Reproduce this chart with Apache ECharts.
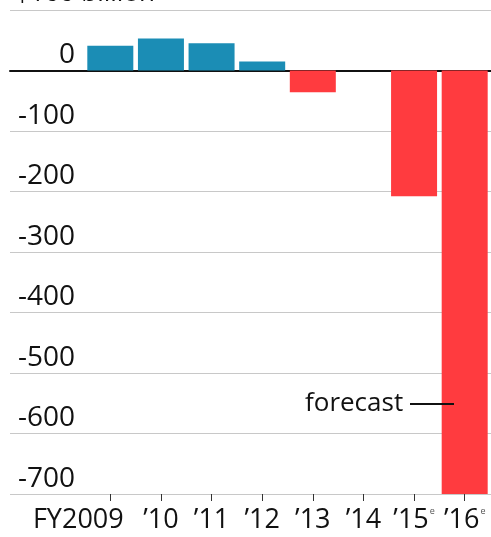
<!DOCTYPE html>
<html>
<head>
<meta charset="utf-8">
<script src="https://cdn.jsdelivr.net/npm/echarts@6/dist/echarts.min.js"></script>
<style>
  html, body { margin: 0; padding: 0; background: #fff; }
  #chart { width: 491px; height: 537px; }
</style>
</head>
<body>
<div id="chart"></div>
<script>
// budget balance, $ billion
const years = ['FY2009', '’10', '’11', '’12', '’13', '’14', '’15', '’16'];
const forecast = [false, false, false, false, false, false, true, true];
const balance = [41, 53, 45, 15, -36, 0, -208, -700];
const yTicks = [100, 0, -100, -200, -300, -400, -500, -600, -700];

const BLUE = '#1b8db5';
const RED = '#ff3b3f';
const FONT = '"Open Sans", "Noto Sans", sans-serif';

const chart = echarts.init(document.getElementById('chart'));

chart.setOption({
    animation: false,
    textStyle: { fontFamily: FONT },
    grid: [
        // wide grid: gridlines and zero line run under the labels
        { left: 10, right: 0, top: 10, bottom: 43 },
        // bar grid
        { left: 85, right: 1, top: 10, bottom: 43 }
    ],
    xAxis: [
        {
            gridIndex: 0, type: 'value', min: 0, max: 1,
            axisLine: { show: true, onZero: true, lineStyle: { color: '#111', width: 2 } },
            axisTick: { show: false }, axisLabel: { show: false }, splitLine: { show: false }
        },
        {
            gridIndex: 1, type: 'category',
            data: years.map((y, i) => {
                if (i === 0) return { value: y, textStyle: { padding: [0, 64, 0, 0] } };
                return y;
            }),
            axisLine: { show: false, onZero: false },
            axisTick: { show: true, alignWithLabel: true, interval: 0, length: 7, lineStyle: { color: '#333' } },
            axisLabel: {
                interval: 0,
                margin: 13,
                fontSize: 27,
                color: '#111',
                formatter: (v, i) => forecast[i] ? v + '{e|e}' : v,
                rich: { e: { fontSize: 9, color: '#555', verticalAlign: 'top', padding: [0, 0, 12, 1] } }
            }
        }
    ],
    yAxis: [
        {
            gridIndex: 0, type: 'value', min: -700, max: 100, interval: 100,
            axisLine: { show: false }, axisTick: { show: false }, axisLabel: { show: false },
            splitLine: { lineStyle: { color: '#c8c8c8', width: 1 } }
        },
        {
            gridIndex: 1, type: 'value', min: -700, max: 100, interval: 100,
            axisLine: { show: false }, axisTick: { show: false },
            splitLine: { show: false },
            axisLabel: {
                margin: 10,
                fontSize: 28,
                color: '#111',
                verticalAlign: 'bottom',
                padding: [0, 0, 1, 0],
                formatter: v => (v === 100 ? '' : (v < 0 ? '-' + Math.abs(v) : String(v)))
            }
        }
    ],
    series: [{
        type: 'bar',
        xAxisIndex: 1,
        yAxisIndex: 1,
        barWidth: 46,
        data: balance.map(v => ({ value: v, itemStyle: { color: v >= 0 ? BLUE : RED } }))
    }],
    graphic: [
        {
            type: 'text', left: 15, top: -19,
            style: { text: '$100 billion', font: '26px ' + FONT, fill: '#111' }
        },
        {
            type: 'text', left: 305, top: 391, z: 100,
            style: { text: 'forecast', font: '26px ' + FONT, fill: '#111' }
        },
        {
            type: 'line', z: 100,
            shape: { x1: 410, y1: 404, x2: 454, y2: 404 },
            style: { stroke: '#111', lineWidth: 2 }
        }
    ]
});
</script>
</body>
</html>
